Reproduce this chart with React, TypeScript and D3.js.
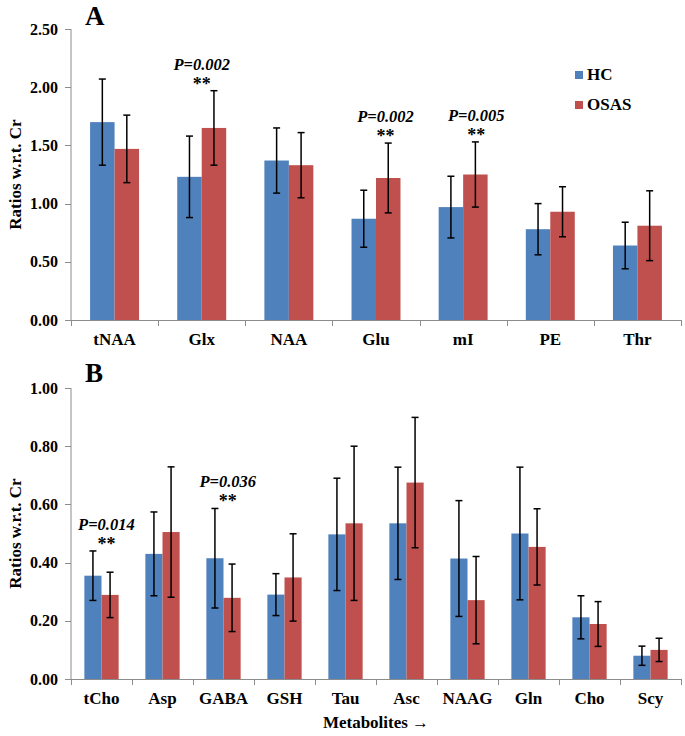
import React from 'react';
import * as d3 from 'd3';

// ---------- data ----------
const seriesNames = ['HC', 'OSAS'];

const catsA = ['tNAA', 'Glx', 'NAA', 'Glu', 'mI', 'PE', 'Thr'];
const hcA = [1.70, 1.23, 1.37, 0.87, 0.97, 0.78, 0.64];
const hcErrA = [0.37, 0.35, 0.28, 0.245, 0.265, 0.22, 0.20];
const osasA = [1.47, 1.65, 1.33, 1.22, 1.25, 0.93, 0.81];
const osasErrA = [0.29, 0.32, 0.28, 0.30, 0.28, 0.215, 0.30];
const ticksA = [0, 0.5, 1.0, 1.5, 2.0, 2.5];

const catsB = ['tCho', 'Asp', 'GABA', 'GSH', 'Tau', 'Asc', 'NAAG', 'Gln', 'Cho', 'Scy'];
const hcB = [0.355, 0.43, 0.415, 0.29, 0.497, 0.535, 0.414, 0.50, 0.212, 0.080];
const hcErrB = [0.085, 0.144, 0.171, 0.072, 0.193, 0.193, 0.199, 0.228, 0.074, 0.033];
const osasB = [0.289, 0.505, 0.279, 0.349, 0.535, 0.675, 0.271, 0.454, 0.189, 0.100];
const osasErrB = [0.078, 0.224, 0.116, 0.150, 0.265, 0.224, 0.150, 0.131, 0.077, 0.040];
const ticksB = [0, 0.2, 0.4, 0.6, 0.8, 1.0];

const annotA = [
  { cat: 'Glx', p: 'P=0.002', stars: '**' },
  { cat: 'Glu', p: 'P=0.002', stars: '**' },
  { cat: 'mI', p: 'P=0.005', stars: '**' },
];
const annotB = [
  { cat: 'tCho', p: 'P=0.014', stars: '**' },
  { cat: 'GABA', p: 'P=0.036', stars: '**' },
];

// ---------- styles ----------
const BLUE = '#4F81BD';
const RED = '#C0504D';
const AXIS = '#8c8c8c';
const FONT = '"Liberation Serif", "Times New Roman", serif';
// horizontal shift of annotation, as fraction of band width
const annotShift: Record<string, number> = { Glx: 0.0, Glu: 0.11, mI: 0.15, tCho: 0.08, GABA: 0.07 };

type PanelProps = {
  letter: string;
  cats: string[];
  hc: number[];
  hcErr: number[];
  osas: number[];
  osasErr: number[];
  ticks: number[];
  yMax: number;
  top: number;
  bottom: number;
  annots: { cat: string; p: string; stars: string }[];
  letterY: number;
  xTitle?: string;
};

const LEFT = 71;
const RIGHT = 681;

function Panel(props: PanelProps) {
  const { letter, cats, hc, hcErr, osas, osasErr, ticks, yMax, top, bottom, annots, letterY, xTitle } = props;
  const x = d3.scaleBand<string>().domain(cats).range([LEFT, RIGHT]).paddingInner(0).paddingOuter(0);
  const inner = d3.scaleBand<string>().domain(seriesNames).range([0, x.bandwidth()]).paddingInner(0).paddingOuter(0.78);
  const y = d3.scaleLinear().domain([0, yMax]).range([bottom, top]);
  const fmt = d3.format('.2f');
  const series = [
    { name: 'HC', vals: hc, errs: hcErr, color: BLUE },
    { name: 'OSAS', vals: osas, errs: osasErr, color: RED },
  ];
  const bw = inner.bandwidth();
  const boundaries = cats.map((c) => x(c)!).concat([RIGHT]);
  const midY = (top + bottom) / 2;

  return (
    <g>
      {/* panel letter */}
      <text x={85} y={letterY} fontFamily={FONT} fontWeight="bold" fontSize={27}>{letter}</text>
      {/* y axis title */}
      <text transform={`translate(21,${midY}) rotate(-90)`} textAnchor="middle" fontFamily={FONT} fontWeight="bold" fontSize={17}>Ratios w.r.t. Cr</text>
      {/* bars */}
      {series.map((s) => (
        <g key={s.name}>
          {cats.map((c, i) => (
            <rect key={c} x={x(c)! + inner(s.name)!} y={y(s.vals[i])} width={bw} height={y(0) - y(s.vals[i])} fill={s.color} />
          ))}
        </g>
      ))}
      {/* error bars */}
      {series.map((s) => (
        <g key={s.name + 'e'} stroke="#000" strokeWidth={1.5}>
          {cats.map((c, i) => {
            const cx = x(c)! + inner(s.name)! + bw / 2;
            const y1 = y(s.vals[i] + s.errs[i]);
            const y2 = y(s.vals[i] - s.errs[i]);
            return (
              <g key={c}>
                <line x1={cx} x2={cx} y1={y1} y2={y2} />
                <line x1={cx - 3.5} x2={cx + 3.5} y1={y1} y2={y1} />
                <line x1={cx - 3.5} x2={cx + 3.5} y1={y2} y2={y2} />
              </g>
            );
          })}
        </g>
      ))}
      {/* axes */}
      <line x1={LEFT} x2={LEFT} y1={top} y2={bottom} stroke={AXIS} strokeWidth={1} />
      <line x1={LEFT} x2={RIGHT} y1={bottom + 0.5} y2={bottom + 0.5} stroke={AXIS} strokeWidth={1} />
      {ticks.map((t) => (
        <g key={t}>
          <line x1={LEFT - 6} x2={LEFT} y1={Math.round(y(t)) + 0.5} y2={Math.round(y(t)) + 0.5} stroke={AXIS} />
          <text x={58} y={y(t) + 5.5} textAnchor="end" fontFamily={FONT} fontWeight="bold" fontSize={16}>{fmt(t)}</text>
        </g>
      ))}
      {boundaries.map((b, i) => (
        <line key={i} x1={Math.round(b) + 0.5} x2={Math.round(b) + 0.5} y1={bottom} y2={bottom + 6} stroke={AXIS} />
      ))}
      {cats.map((c) => (
        <text key={c} x={x(c)! + x.bandwidth() / 2} y={bottom + 25} textAnchor="middle" fontFamily={FONT} fontWeight="bold" fontSize={17}>{c}</text>
      ))}
      {/* annotations */}
      {annots.map((a) => {
        const i = cats.indexOf(a.cat);
        const maxTop = Math.max(hc[i] + hcErr[i], osas[i] + osasErr[i]);
        const cx = x(a.cat)! + x.bandwidth() / 2 + (annotShift[a.cat] || 0) * x.bandwidth();
        const sy = y(maxTop) - 1;
        return (
          <g key={a.cat}>
            <text x={cx} y={sy - 20} textAnchor="middle" fontFamily={FONT} fontWeight="bold" fontStyle="italic" fontSize={16.5}>{a.p}</text>
            <text x={cx} y={sy} textAnchor="middle" fontFamily={FONT} fontWeight="bold" fontSize={18}>{a.stars}</text>
          </g>
        );
      })}
      {xTitle && (
        <text x={(LEFT + RIGHT) / 2} y={728} textAnchor="middle" fontFamily={FONT} fontWeight="bold" fontSize={17}>{xTitle}</text>
      )}
    </g>
  );
}

export default function App() {
  return (
    <svg width={685} height={736} style={{ position: 'absolute', left: 0, top: 0, background: '#fff' }}>
      <rect x={0} y={0} width={685} height={736} fill="#fff" />
      <Panel letter="A" cats={catsA} hc={hcA} hcErr={hcErrA} osas={osasA} osasErr={osasErrA}
        ticks={ticksA} yMax={2.5} top={29} bottom={320} annots={annotA} letterY={25} />
      <Panel letter="B" cats={catsB} hc={hcB} hcErr={hcErrB} osas={osasB} osasErr={osasErrB}
        ticks={ticksB} yMax={1.0} top={388} bottom={679} annots={annotB} letterY={382} xTitle="Metabolites →" />
      {/* legend */}
      {seriesNames.map((n, i) => (
        <g key={n}>
          <rect x={575} y={71 + i * 30} width={8} height={8} fill={i === 0 ? BLUE : RED} />
          <text x={587} y={80 + i * 30} fontFamily={FONT} fontWeight="bold" fontSize={17}>{n}</text>
        </g>
      ))}
    </svg>
  );
}
